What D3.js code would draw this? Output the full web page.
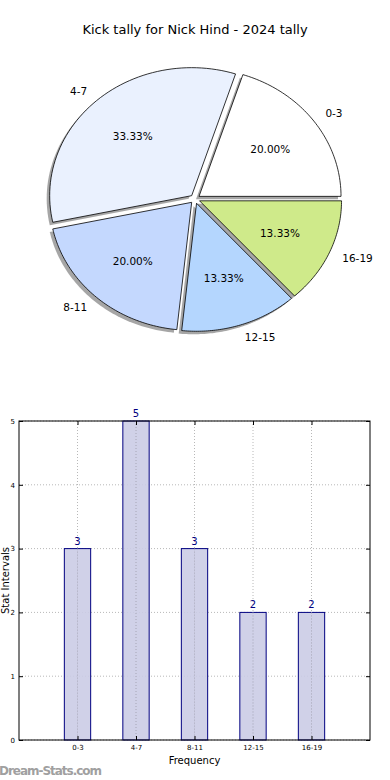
<!DOCTYPE html>
<html><head><meta charset="utf-8">
<script src="https://cdn.jsdelivr.net/npm/d3@7/dist/d3.min.js"></script>
<style>body{margin:0;background:#fff}svg{display:block;font-family:"DejaVu Sans",sans-serif}</style>
</head><body><svg id="c" width="390" height="780"></svg>
<script>
const title = "Kick tally for Nick Hind - 2024 tally";
const categories = ["0-3","4-7","8-11","12-15","16-19"];
const values = [3,5,3,2,2];
const pieColors = ["#ffffff","#eaf1fe","#c4d8fe","#b4d6fe","#cfea8a"];
const yTicks = [0,1,2,3,4,5];

const svg = d3.select("#c");
svg.append("text").attr("x",195).attr("y",34).attr("text-anchor","middle")
  .attr("font-size",13).attr("fill","#000").text(title);

// ---- Pie (elliptical, matplotlib style, counterclockwise from east) ----
const cx=195, cy=199, rx=142, ry=128, explode=0.035;
const total = d3.sum(values);
const angScale = d3.scaleLinear().domain([0,total]).range([0,2*Math.PI]);
let cum=0;
const slices = values.map((v,i)=>{const a0=angScale(cum); cum+=v; const a1=angScale(cum); return {i,v,a0,a1,mid:(a0+a1)/2};});
function pt(ox,oy,a,f){return [ox+Math.cos(a)*rx*f, oy-Math.sin(a)*ry*f];}
function wedgePath(ox,oy,a0,a1){
  const p=d3.path(); p.moveTo(ox,oy);
  const n=60;
  for(let k=0;k<=n;k++){const a=a0+(a1-a0)*k/n; const q=pt(ox,oy,a,1); p.lineTo(q[0],q[1]);}
  p.closePath(); return p.toString();
}
const pieG = svg.append("g");
slices.forEach(s=>{
  const o=pt(cx,cy,s.mid,explode);
  pieG.append("path").attr("d",wedgePath(o[0]-3,o[1]+3,s.a0,s.a1))
    .attr("fill","rgb(77,77,77)").attr("fill-opacity",0.5).attr("stroke","none");
});
slices.forEach(s=>{
  const o=pt(cx,cy,s.mid,explode);
  pieG.append("path").attr("d",wedgePath(o[0],o[1],s.a0,s.a1))
    .attr("fill",pieColors[s.i]).attr("stroke","#000").attr("stroke-width",0.8).attr("stroke-linejoin","round");
});
slices.forEach(s=>{
  const o=pt(cx,cy,s.mid,explode);
  const lp=pt(o[0],o[1],s.mid,1.1);
  pieG.append("text").attr("x",lp[0]).attr("y",lp[1]).attr("dy","0.35em")
    .attr("text-anchor",Math.cos(s.mid)>0?"start":"end").attr("font-size",10.5).text(categories[s.i]);
  const pp=pt(o[0],o[1],s.mid,0.62);
  pieG.append("text").attr("x",pp[0]).attr("y",pp[1]).attr("dy","0.35em")
    .attr("text-anchor","middle").attr("font-size",10.5).text((s.v/total*100).toFixed(2)+"%");
});

// ---- Bar chart ----
const L=19,R=370,T=421,B=740;
const x = d3.scaleLinear().domain([-1,5]).range([L,R]);
const y = d3.scaleLinear().domain([0,5]).range([B,T]);
const bw = x(0.45)-x(0);
const g = svg.append("g");
const gridStyle = s=>s.attr("stroke","#b8b8b8").attr("stroke-width",1).attr("stroke-dasharray","1,2");
yTicks.forEach(t=>{ gridStyle(g.append("line").attr("x1",L).attr("x2",R).attr("y1",y(t)).attr("y2",y(t))); });
categories.forEach((c,i)=>{ gridStyle(g.append("line").attr("x1",x(i)).attr("x2",x(i)).attr("y1",T).attr("y2",B)); });
g.selectAll("rect.bar").data(values).enter().append("rect")
  .attr("x",(d,i)=>x(i)-bw/2).attr("width",bw).attr("y",d=>y(d)).attr("height",d=>B-y(d))
  .attr("fill","#cbcce5").attr("fill-opacity",0.9).attr("stroke","#000080").attr("stroke-width",1);
categories.forEach((c,i)=>{ gridStyle(g.append("line").attr("x1",x(i)).attr("x2",x(i)).attr("y1",y(values[i])).attr("y2",B)).attr("stroke","#a8a8b8"); });
g.selectAll("text.val").data(values).enter().append("text")
  .attr("x",(d,i)=>x(i)).attr("y",d=>y(d)-4).attr("text-anchor","middle")
  .attr("font-size",10).attr("fill","#000080").text(d=>d);
g.append("rect").attr("x",L).attr("y",T).attr("width",R-L).attr("height",B-T)
  .attr("fill","none").attr("stroke","#000").attr("stroke-width",1);
const yAxisL = d3.axisLeft(y).tickValues(yTicks).tickSize(-4).tickPadding(4).tickFormat(d3.format("d"));
const ay = g.append("g").attr("transform",`translate(${L},0)`).call(yAxisL);
ay.select(".domain").remove();
ay.selectAll("text").attr("font-size",7).attr("font-family","DejaVu Sans");
const yAxisR = d3.axisRight(y).tickValues(yTicks).tickSize(-4).tickFormat("");
const ayr = g.append("g").attr("transform",`translate(${R},0)`).call(yAxisR);
ayr.select(".domain").remove();
const xAxis = d3.axisBottom(x).tickValues(d3.range(categories.length)).tickSize(-4).tickPadding(5).tickFormat(i=>categories[i]);
const ax = g.append("g").attr("transform",`translate(0,${B})`).call(xAxis);
ax.select(".domain").remove();
ax.selectAll("text").attr("font-size",7).attr("font-family","DejaVu Sans");
const xAxisT = d3.axisTop(x).tickValues(d3.range(categories.length)).tickSize(-4).tickFormat("");
const axt = g.append("g").attr("transform",`translate(0,${T})`).call(xAxisT);
axt.select(".domain").remove();
svg.append("text").attr("x",(L+R)/2).attr("y",764).attr("text-anchor","middle").attr("font-size",10).text("Frequency");
svg.append("text").attr("transform",`translate(9,${(T+B)/2}) rotate(-90)`).attr("text-anchor","middle").attr("font-size",10).text("Stat Intervals");
svg.append("text").attr("x",-1).attr("y",775).attr("font-size",12).attr("font-weight","600").attr("fill","#a0a0a0").attr("textLength",103).text("Dream-Stats.com");
</script></body></html>
